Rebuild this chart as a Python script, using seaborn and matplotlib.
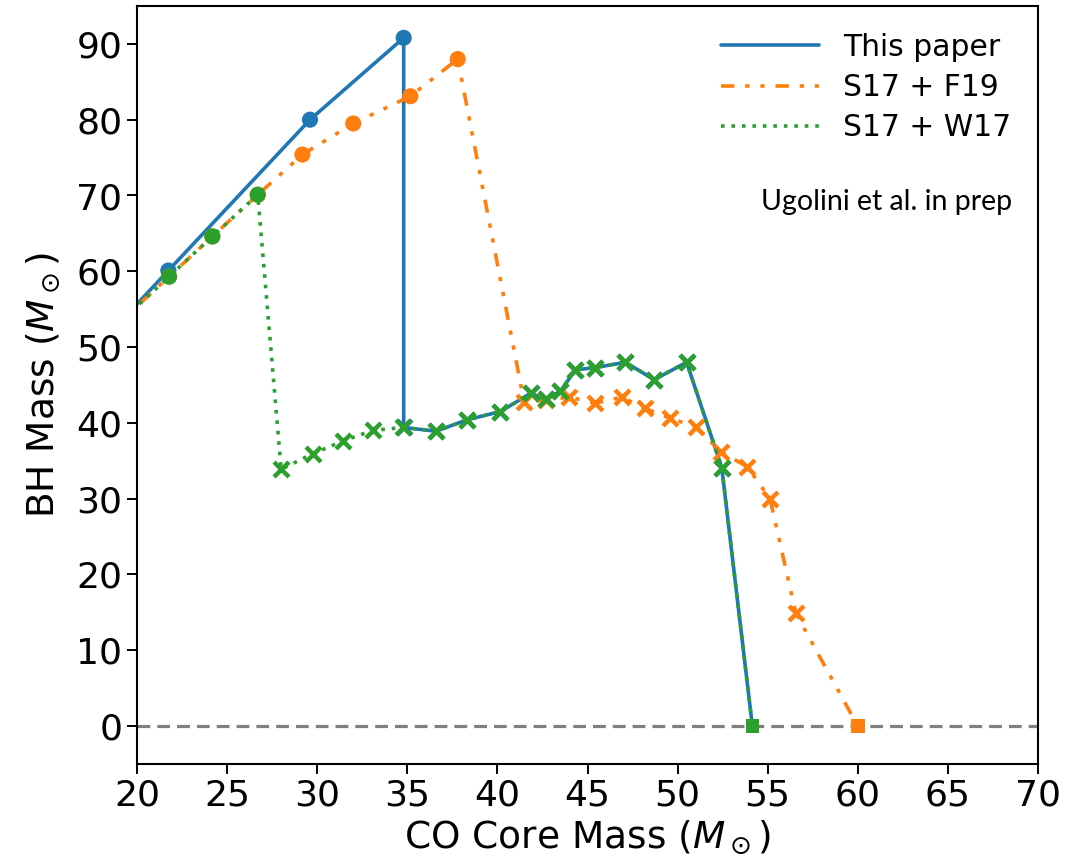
import matplotlib
matplotlib.use("Agg")
import matplotlib.pyplot as plt
import seaborn as sns
import pandas as pd

# ---------------- data ----------------
this_x = [18.0, 21.74, 29.6, 34.8, 34.8, 36.6, 38.3, 40.17, 41.84, 42.68, 43.5,
          44.33, 45.44, 47.1, 48.7, 50.5, 52.45, 54.15]
this_y = [50.6, 60.1, 80.0, 90.8, 39.4, 38.9, 40.4, 41.5, 43.9, 43.1, 44.2,
          47.0, 47.3, 48.0, 45.7, 48.0, 34.1, 0.0]
this_kind = ["dot"] * 4 + ["cross"] * 13 + ["square"]

f19_x = [18.0, 21.78, 24.18, 26.7, 29.18, 32.0, 35.17, 37.8, 41.48, 42.68, 44.0,
         45.44, 46.9, 48.2, 49.6, 51.0, 52.4, 53.87, 55.13, 56.56, 60.0]
f19_y = [51.0, 59.3, 64.6, 70.1, 75.4, 79.5, 83.1, 88.0, 42.8, 43.0, 43.4,
         42.6, 43.4, 41.9, 40.6, 39.5, 36.2, 34.2, 30.0, 14.9, 0.0]
f19_kind = ["dot"] * 8 + ["cross"] * 12 + ["square"]

w17_x = [18.0, 21.78, 24.18, 26.7, 28.0, 29.74, 31.41, 33.07, 34.76, 36.6, 38.3,
         40.17, 41.84, 42.68, 43.5, 44.33, 45.44, 47.1, 48.7, 50.5, 52.45, 54.15]
w17_y = [51.0, 59.3, 64.6, 70.1, 33.9, 35.9, 37.6, 39.0, 39.4, 38.9, 40.4,
         41.5, 43.9, 43.1, 44.2, 47.0, 47.3, 48.0, 45.7, 48.0, 34.1, 0.0]
w17_kind = ["dot"] * 4 + ["cross"] * 17 + ["square"]

series_names = ["This paper", "S17 + F19", "S17 + W17"]
x_ticks = [20, 25, 30, 35, 40, 45, 50, 55, 60, 65, 70]
y_ticks = [0, 10, 20, 30, 40, 50, 60, 70, 80, 90]
note_text = "Ugolini et al. in prep"

# ---------------- style ----------------
sns.set_theme(style="ticks")
plt.rcParams["font.family"] = ["DejaVu Sans"]
plt.rcParams["mathtext.fontset"] = "dejavusans"
for key in ["text.color", "axes.labelcolor", "xtick.color", "ytick.color",
            "axes.edgecolor"]:
    plt.rcParams[key] = "black"

fig = plt.figure(figsize=(10.76, 8.59), dpi=100)
ax = fig.add_axes([137 / 1076, 1 - 764 / 859, (1038 - 137) / 1076, (764 - 6) / 859])

colors = ["#1f77b4", "#ff7f0e", "#2ca02c"]
lw = 2.6
styles = ["-", (0, (3.7, 3.0, 1.2, 3.0, 1.2, 3.0)), (0, (1.0, 1.9))]
datasets = [(this_x, this_y, this_kind), (f19_x, f19_y, f19_kind), (w17_x, w17_y, w17_kind)]
marker_map = {"dot": "o", "cross": "x", "square": "s"}

ax.axhline(0, color="#808080", lw=2.3, ls=(0, (4, 2.2)), zorder=1)

for i, ((xs, ys, ks), name) in enumerate(zip(datasets, series_names)):
    df = pd.DataFrame({"x": xs, "y": ys, "kind": ks})
    sns.lineplot(data=df, x="x", y="y", ax=ax, sort=False, estimator=None,
                 color=colors[i], lw=lw, linestyle=styles[i], label=name,
                 zorder=2 + 2 * i)
    for kind, mk in marker_map.items():
        sub = df[df["kind"] == kind]
        if kind == "cross":
            sns.scatterplot(data=sub, x="x", y="y", ax=ax, marker=mk, s=115,
                            color=colors[i], linewidth=3.2, zorder=3 + 2 * i,
                            legend=False)
        else:
            sns.scatterplot(data=sub, x="x", y="y", ax=ax, marker=mk,
                            s=135 if kind == "dot" else 95,
                            color=colors[i], edgecolor="none", zorder=3 + 2 * i,
                            legend=False)

ax.set_xlim(20, 70)
ax.set_ylim(-5, 95)
ax.set_xticks(x_ticks)
ax.set_yticks(y_ticks)
ax.tick_params(labelsize=26, length=7, width=1.4, direction="out", colors="black")
for sp in ax.spines.values():
    sp.set_linewidth(1.5)
    sp.set_color("black")
    sp.set_visible(True)

ax.set_xlabel(r"CO Core Mass ($M_\odot$)", fontsize=27, color="black")
ax.set_ylabel(r"BH Mass ($M_\odot$)", fontsize=27, color="black", labelpad=10)

leg = ax.legend(loc="upper right", frameon=False, fontsize=21.4,
                handlelength=3.3, handletextpad=0.8, labelspacing=0.38)
for t in leg.get_texts():
    t.set_color("black")

ax.text(0.971, 0.742, note_text, transform=ax.transAxes, ha="right", va="center",
        fontsize=20.5, color="black", family=["Lato", "DejaVu Sans"])

fig.savefig("out.png", dpi=100)
